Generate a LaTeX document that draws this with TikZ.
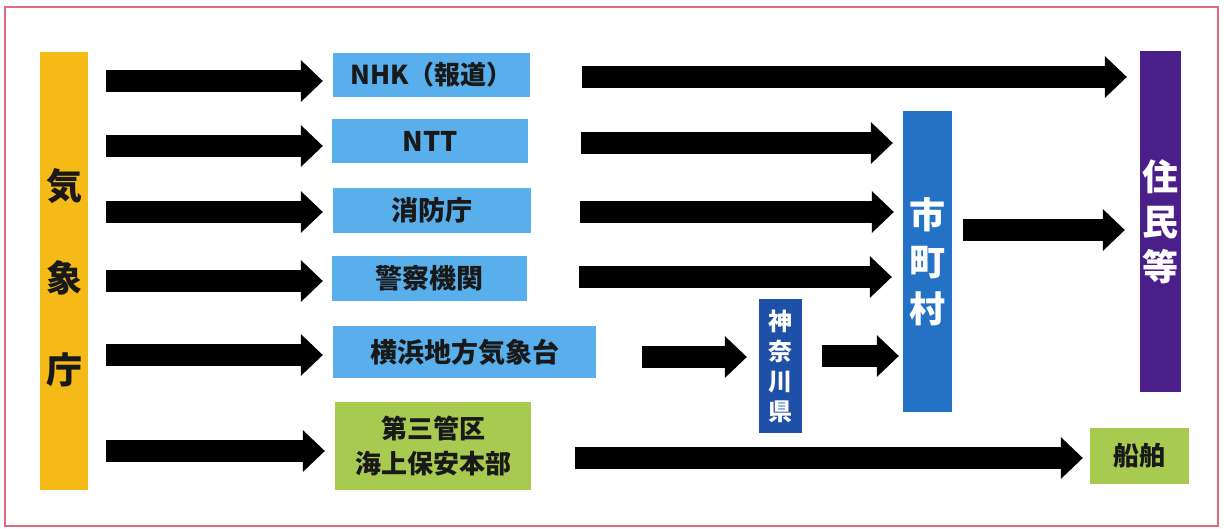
\documentclass[tikz,border=0pt]{standalone}
\usepackage{fontspec}
\setmainfont{Noto Sans CJK JP}
\usetikzlibrary{arrows.meta,calc}
\definecolor{kishoY}{HTML}{F6BA18}
\definecolor{lblue}{HTML}{58AFEC}
\definecolor{lgreen}{HTML}{A8CA50}
\definecolor{mblue}{HTML}{2472C6}
\definecolor{dblue}{HTML}{1E50A8}
\definecolor{purp}{HTML}{4B1F8A}
\definecolor{frame}{HTML}{E06A80}
\tikzset{
  box/.style={draw=none, inner sep=0pt, align=center, font=\fontsize{27}{35}\selectfont\bfseries, text=black!90},
  vbox/.style={draw=none, inner sep=0pt, align=center, text=white, font=\fontsize{36}{47}\selectfont\bfseries},
  bigarrow/.style={line width=22pt, black, -{Triangle[length=22pt,width=42pt,line width=0pt]}},
}
\begin{document}
\begin{tikzpicture}[x=1pt,y=-1pt]
\fill[white] (0,0) rectangle (1224,528);
\useasboundingbox (0,0) rectangle (1224,528);
\draw[frame, line width=1.2pt] (5,7) rectangle (1218,526);

% source
\node[box, fill=kishoY, minimum width=48pt, minimum height=438pt] (kisho) at (64,271) {};
\node[box, font=\fontsize{36}{92}\selectfont\bfseries] (kishotext) at (64,278) {気\\象\\庁};

% middle boxes
\node[box, fill=lblue, minimum width=197pt, minimum height=44pt, font=\fontsize{26}{35}\selectfont\bfseries] (nhk) at (431.5,75) {NHK（報道）};
\node[box, fill=lblue, minimum width=196pt, minimum height=44pt] (ntt) at (430,141) {NTT};
\node[box, fill=lblue, minimum width=198pt, minimum height=45pt] (shobo) at (432,210.5) {消防庁};
\node[box, fill=lblue, minimum width=195pt, minimum height=45pt] (keisatsu) at (429.5,278.5) {警察機関};
\node[box, fill=lblue, minimum width=263pt, minimum height=52pt] (yokohama) at (464.5,352) {横浜地方気象台};
\node[box, fill=lgreen, minimum width=196pt, minimum height=88pt, font=\fontsize{26}{35}\selectfont\bfseries] (kaiho) at (433,446) {第三管区\\海上保安本部};

% right side
\node[vbox, fill=dblue, minimum width=43pt, minimum height=134pt, font=\fontsize{24}{30}\selectfont\bfseries] (kanagawa) at (780.5,366) {神\\奈\\川\\県};
\node[vbox, fill=mblue, minimum width=49pt, minimum height=301pt] (shicho) at (927.5,261.5) {市\\町\\村};
\node[vbox, fill=purp, minimum width=41pt, minimum height=341pt, font=\fontsize{36}{45}\selectfont\bfseries] (jumin) at (1160.5,221.5) {住\\民\\等};
\node[box, fill=lgreen, minimum width=99pt, minimum height=56pt, font=\fontsize{26}{35}\selectfont\bfseries] (senpaku) at (1139.5,456) {船舶};

% arrows from 気象庁
\draw[bigarrow] ($(kisho.east|-nhk.west)+(18,6)$) -- ($(nhk.west)+(-10,6)$);
\draw[bigarrow] ($(kisho.east|-ntt.west)+(18,5)$) -- ($(ntt.west)+(-9,5)$);
\draw[bigarrow] ($(kisho.east|-shobo.west)+(18,1.5)$) -- ($(shobo.west)+(-10,1.5)$);
\draw[bigarrow] ($(kisho.east|-keisatsu.west)+(18,2.5)$) -- ($(keisatsu.west)+(-9,2.5)$);
\draw[bigarrow] ($(kisho.east|-yokohama.west)+(18,3)$) -- ($(yokohama.west)+(-10,3)$);
\draw[bigarrow] ($(kisho.east|-kaiho.west)+(18,5)$) -- ($(kaiho.west)+(-10,5)$);

% onward arrows
\draw[bigarrow] ($(nhk.east)+(52,2)$) -- ($(jumin.west|-nhk.east)+(-13,2)$);
\draw[bigarrow] ($(ntt.east)+(53,2)$) -- ($(shicho.west|-ntt.east)+(-10,2)$);
\draw[bigarrow] ($(shobo.east)+(49,1.5)$) -- ($(shicho.west|-shobo.east)+(-9,1.5)$);
\draw[bigarrow] ($(keisatsu.east)+(52,-1.5)$) -- ($(shicho.west|-keisatsu.east)+(-11,-1.5)$);
\draw[bigarrow] ($(yokohama.east)+(46,5)$) -- ($(kanagawa.west|-yokohama.east)+(-12,5)$);
\draw[bigarrow] ($(kanagawa.east|-yokohama.east)+(20,4)$) -- ($(shicho.west|-yokohama.east)+(-4,4)$);
\draw[bigarrow] ($(shicho.east)+(11,-31.5)$) -- ($(jumin.west|-shicho.east)+(-15,-31.5)$);
\draw[bigarrow] ($(kaiho.east|-senpaku.west)+(44,2)$) -- ($(senpaku.west)+(-7,2)$);
\end{tikzpicture}
\end{document}
